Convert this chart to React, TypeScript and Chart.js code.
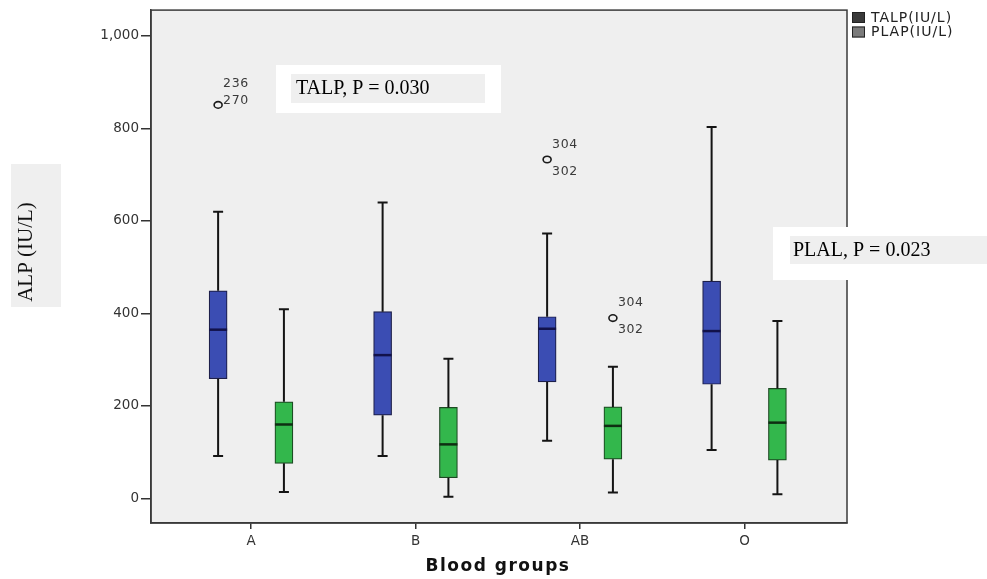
import React, { useEffect, useRef } from "react";
import { Chart, registerables } from "chart.js";

Chart.register(...registerables);

// ---------- data ----------
const groups = ["A", "B", "AB", "O"];
const seriesNames = ["TALP(IU/L)", "PLAP(IU/L)"];
const yTicks = [0, 200, 400, 600, 800, 1000];

const talpMin = [92, 92, 125, 105];
const talpQ1 = [259, 180, 252, 247];
const talpMedian = [365, 310, 367, 362];
const talpQ3 = [449, 404, 393, 470];
const talpMax = [620, 640, 573, 803];

const plapMin = [14, 4, 13, 9];
const plapQ1 = [76, 45, 85, 83];
const plapMedian = [160, 117, 157, 164];
const plapQ3 = [209, 197, 198, 238];
const plapMax = [409, 302, 285, 384];

const talpOutliers: (number | null)[] = [851, null, 733, null];
const talpOutlierIds: string[][] = [["236", "270"], [], ["304", "302"], []];
const plapOutliers: (number | null)[] = [null, null, 390, null];
const plapOutlierIds: string[][] = [[], [], ["304", "302"], []];

const annotations = ["TALP, P = 0.030", "PLAL, P = 0.023"];
const xTitle = "Blood groups";
const yTitle = "ALP (IU/L)";

// ---------- styling / layout ----------
const series = [
  {
    name: seriesNames[0], min: talpMin, q1: talpQ1, med: talpMedian, q3: talpQ3, max: talpMax,
    out: talpOutliers, ids: talpOutlierIds, offset: -0.2,
    fill: "#3b4db3", border: "#1d1f4a", medColor: "#12124a", legend: "#3a3a3a",
  },
  {
    name: seriesNames[1], min: plapMin, q1: plapQ1, med: plapMedian, q3: plapQ3, max: plapMax,
    out: plapOutliers, ids: plapOutlierIds, offset: 0.2,
    fill: "#33b74c", border: "#1c4a22", medColor: "#0e2e12", legend: "#7b7b7b",
  },
];

// label placement (dy for first and second id) per group, in px
const outlierLabelDy: Record<string, number[]> = { A: [-21, -4], AB: [-15, 12] };

const SANS = '"DejaVu Sans", "Liberation Sans", sans-serif';
const SERIF = '"Liberation Serif", "Times New Roman", serif';

const extrasPlugin = {
  id: "boxExtras",
  beforeDraw(chart: any) {
    const { ctx, chartArea: a } = chart;
    ctx.save();
    ctx.fillStyle = "#ffffff";
    ctx.fillRect(0, 0, chart.width, chart.height);
    ctx.fillStyle = "#efefef";
    ctx.fillRect(a.left, a.top, a.right - a.left, a.bottom - a.top);
    // y title box
    ctx.fillStyle = "#efefef";
    ctx.fillRect(11, 164, 50, 143);
    ctx.restore();
  },
  afterDatasetsDraw(chart: any) {
    const { ctx } = chart;
    const xs = chart.scales.x;
    const ys = chart.scales.y;
    ctx.save();
    series.forEach((s) => {
      groups.forEach((g, i) => {
        const px = xs.getPixelForValue(i + 1 + s.offset);
        const yMin = ys.getPixelForValue(s.min[i]);
        const yQ1 = ys.getPixelForValue(s.q1[i]);
        const yQ3 = ys.getPixelForValue(s.q3[i]);
        const yMax = ys.getPixelForValue(s.max[i]);
        const yMed = ys.getPixelForValue(s.med[i]);
        ctx.strokeStyle = "#141414";
        ctx.lineWidth = 2;
        ctx.beginPath();
        ctx.moveTo(px, yQ3);
        ctx.lineTo(px, yMax);
        ctx.moveTo(px, yQ1);
        ctx.lineTo(px, yMin);
        ctx.stroke();
        ctx.lineWidth = 2;
        ctx.beginPath();
        ctx.moveTo(px - 5, yMax);
        ctx.lineTo(px + 5, yMax);
        ctx.moveTo(px - 5, yMin);
        ctx.lineTo(px + 5, yMin);
        ctx.stroke();
        // median
        ctx.strokeStyle = s.medColor;
        ctx.lineWidth = 2.5;
        ctx.beginPath();
        ctx.moveTo(px - 9, yMed);
        ctx.lineTo(px + 9, yMed);
        ctx.stroke();
        // outliers
        const ov = s.out[i];
        if (ov !== null && ov !== undefined) {
          const oy = ys.getPixelForValue(ov);
          ctx.strokeStyle = "#1a1a1a";
          ctx.lineWidth = 1.6;
          ctx.beginPath();
          ctx.ellipse(px, oy, 4, 3.3, 0, 0, Math.PI * 2);
          ctx.stroke();
          const dys = outlierLabelDy[g] || [-14, 12];
          ctx.fillStyle = "#3a3a3a";
          ctx.font = "12.5px " + SANS;
          (ctx as any).letterSpacing = "0.6px";
          ctx.textAlign = "left";
          ctx.textBaseline = "middle";
          s.ids[i].forEach((id, k) => {
            ctx.fillText(id, px + 5, oy + dys[k]);
          });
          (ctx as any).letterSpacing = "0px";
        }
      });
    });
    ctx.restore();
  },
  afterDraw(chart: any) {
    const { ctx, chartArea: a } = chart;
    ctx.save();
    // frame
    ctx.strokeStyle = "#3a3a3a";
    ctx.lineWidth = 1.5;
    ctx.strokeRect(a.left, a.top, a.right - a.left, a.bottom - a.top);

    // annotation 1
    ctx.fillStyle = "#ffffff";
    ctx.fillRect(276, 65, 225, 48);
    ctx.fillStyle = "#efefef";
    ctx.fillRect(291, 74, 194, 29);
    ctx.fillStyle = "#000000";
    ctx.font = "20px " + SERIF;
    ctx.textAlign = "left";
    ctx.textBaseline = "middle";
    ctx.fillText(annotations[0], 296, 89);

    // annotation 2
    ctx.fillStyle = "#ffffff";
    ctx.fillRect(773, 227, 214, 53);
    ctx.fillStyle = "#efefef";
    ctx.fillRect(790, 236, 197, 28);
    ctx.fillStyle = "#000000";
    ctx.fillText(annotations[1], 793, 251);

    // legend
    ctx.font = "14px " + SANS;
    (ctx as any).letterSpacing = "1px";
    series.forEach((s, k) => {
      const y = 12 + k * 14.5;
      ctx.fillStyle = s.legend;
      ctx.fillRect(852, y, 13, 11);
      ctx.strokeStyle = "#222";
      ctx.lineWidth = 1;
      ctx.strokeRect(852.5, y + 0.5, 12, 10);
      ctx.fillStyle = "#222";
      ctx.textBaseline = "middle";
      ctx.fillText(s.name, 871, y + 6);
    });
    (ctx as any).letterSpacing = "0px";

    // x title
    ctx.font = "bold 17px " + SANS;
    (ctx as any).letterSpacing = "1.5px";
    ctx.fillStyle = "#111";
    ctx.textAlign = "center";
    ctx.textBaseline = "middle";
    ctx.fillText(xTitle, 498, 567);
    (ctx as any).letterSpacing = "0px";

    // y title
    ctx.translate(26, 252);
    ctx.rotate(-Math.PI / 2);
    ctx.font = "21px " + SERIF;
    ctx.fillStyle = "#111";
    ctx.textAlign = "center";
    ctx.textBaseline = "middle";
    ctx.fillText(yTitle, 0, 0);
    ctx.restore();
  },
};

export default function App() {
  const ref = useRef<HTMLCanvasElement | null>(null);

  useEffect(() => {
    document.body.style.margin = "0";
    document.body.style.overflow = "hidden";
    const canvas = ref.current;
    if (!canvas) return;

    const datasets = series.map((s) => ({
      type: "bar" as const,
      label: s.name,
      data: groups.map((_, i) => ({ x: i + 1 + s.offset, y: [s.q1[i], s.q3[i]] })),
      backgroundColor: s.fill,
      borderColor: s.border,
      borderWidth: 1.2,
      borderSkipped: false,
      barThickness: 18,
      grouped: false,
    }));

    const chart = new Chart(canvas, {
      type: "bar",
      data: { datasets: datasets as any },
      options: {
        animation: false,
        responsive: false,
        devicePixelRatio: 1,
        layout: { padding: { top: 10, right: 140, left: 0, bottom: 0 } },
        plugins: { legend: { display: false }, tooltip: { enabled: false } },
        scales: {
          x: {
            type: "linear",
            offset: false,
            min: 0.392,
            max: 4.623,
            afterBuildTicks: (s: any) => {
              s.ticks = groups.map((_, i) => ({ value: i + 1 }));
            },
            afterFit: (s: any) => {
              s.height = 56;
            },
            ticks: {
              autoSkip: false,
              maxRotation: 0,
              padding: 4,
              color: "#333",
              font: { family: SANS, size: 13.5 },
              callback: (v: any) => groups[Math.round(Number(v)) - 1] ?? "",
            },
            grid: {
              display: true,
              offset: false,
              drawOnChartArea: false,
              drawTicks: true,
              tickLength: 6,
              color: "#333",
              lineWidth: 1.5,
            },
            border: { display: true, color: "#3a3a3a", width: 1.5 },
          },
          y: {
            type: "linear",
            min: -53,
            max: 1056,
            afterBuildTicks: (s: any) => {
              s.ticks = yTicks.map((v) => ({ value: v }));
            },
            afterFit: (s: any) => {
              s.width = 151;
            },
            ticks: {
              padding: 2,
              color: "#333",
              font: { family: SANS, size: 13.5 },
              callback: (v: any) => Number(v).toLocaleString("en-US"),
            },
            grid: {
              display: true,
              drawOnChartArea: false,
              drawTicks: true,
              tickLength: 10,
              color: "#333",
              lineWidth: 1.5,
            },
            border: { display: true, color: "#3a3a3a", width: 1.5 },
          },
        },
      },
      plugins: [extrasPlugin],
    } as any);

    return () => chart.destroy();
  }, []);

  return (
    <div style={{ position: "relative", width: 987, height: 579 }}>
      <canvas ref={ref} width={987} height={579} style={{ width: 987, height: 579, display: "block" }} />
    </div>
  );
}
